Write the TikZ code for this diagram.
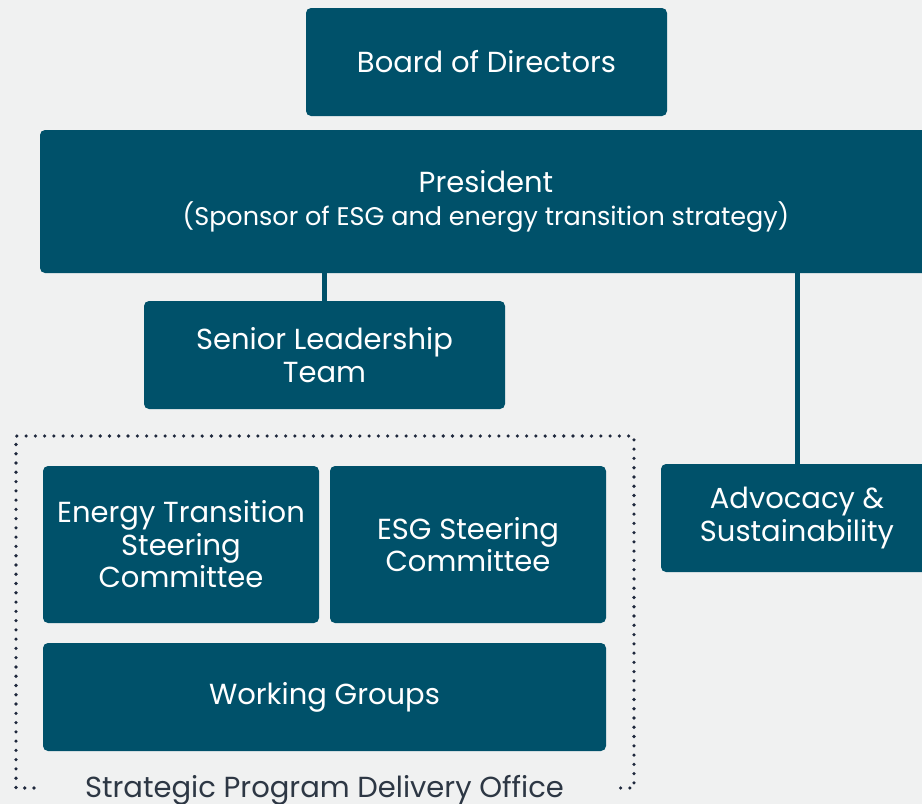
\documentclass[tikz,border=0pt]{standalone}
\usepackage{fontspec}
\setmainfont{Poppins}
\usetikzlibrary{positioning}
\definecolor{teal}{RGB}{0,81,106}
\definecolor{paper}{RGB}{240,241,241}
\definecolor{dotc}{RGB}{30,40,60}
\definecolor{labc}{RGB}{45,55,68}
\tikzset{
  orgbox/.style={fill=teal,text=white,rounded corners=5pt,align=center,inner sep=0pt,
    font=\fontsize{29}{32.5}\selectfont},
  link/.style={draw=teal,line width=5pt}
}
\begin{document}
\begin{tikzpicture}[line cap=round,line join=round,x=1pt,y=-1pt]
\clip (0,0) rectangle (922,804);
\fill [paper] (0,0) rectangle (922,804);
\node [orgbox,minimum width=361pt,minimum height=108pt] (board) at (486.5,62) {Board of Directors};
\node [orgbox,minimum width=892pt,minimum height=143pt] (pres) at (486,201.5) {President\\{\fontsize{25.5}{32.5}\selectfont(Sponsor of ESG and energy transition strategy)}};
\node [orgbox,minimum width=361pt,minimum height=108pt] (slt) at (324.5,355) {Senior Leadership\\Team};
\node [orgbox,minimum width=272pt,minimum height=108pt] (adv) at (797,518) {Advocacy \&\\Sustainability};
\node [orgbox,minimum width=276pt,minimum height=157pt] (etsc) at (181,544.5) {Energy Transition\\Steering\\Committee};
\node [orgbox,minimum width=276pt,minimum height=157pt] (esg) at (468,544.5) {ESG Steering\\Committee};
\node [orgbox,minimum width=563pt,minimum height=108pt] (wg) at (324.5,697) {Working Groups};
\draw [link,line cap=butt] (pres.south -| slt) -- (slt.north);
\draw [link,line cap=butt] (pres.south -| adv) -- (adv.north);
% dotted office frame
\draw [dotc,line width=3.6pt,dash pattern=on 0pt off 9.27pt] (34,788) -- (16,788) -- (16,436) -- (634,436) -- (634,788) -- (615,788);
\node [text=labc,font=\fontsize{29}{32}\selectfont] (spdo) at (324.5,790) {Strategic Program Delivery Office};
\end{tikzpicture}
\end{document}
